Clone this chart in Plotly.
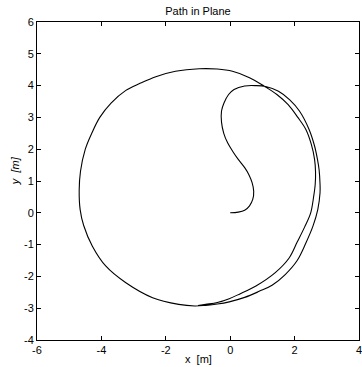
import plotly.graph_objects as go

# path: start, S-curve and loop, first (outer) lap on the right,
# bottom, left side, top, second (inner) lap on the right, ending at the bottom
path_x = [0.0, 0.25, 0.45, 0.6, 0.7, 0.73, 0.68, 0.58, 0.45, 0.25, 0.08, -0.08, -0.2,
          -0.27, -0.27, -0.19, -0.05, 0.12, 0.45, 0.8, 1.1,
          1.5, 1.85, 2.15, 2.45, 2.62, 2.71, 2.76, 2.79, 2.79, 2.72, 2.57, 2.35, 2.08,
          1.7, 1.3, 0.9, 0.45, -0.03, -0.4, -0.76, -1.1, -1.6,
          -2.41, -3.24, -3.86, -4.28, -4.55, -4.66, -4.69, -4.65, -4.5, -4.3, -4.05,
          -3.7, -3.24, -2.8, -2.31, -1.7, -0.96, -0.4, 0.07, 0.6, 1.06,
          1.45, 1.8, 2.1, 2.35, 2.52, 2.62, 2.65, 2.64, 2.59, 2.5, 2.31, 2.08, 1.83,
          1.4, 0.8, 0.3, -0.03, -0.4, -0.76, -1.0]
path_y = [0.0, 0.02, 0.08, 0.22, 0.42, 0.68, 0.95, 1.2, 1.42, 1.68, 1.93, 2.2, 2.5,
          2.85, 3.2, 3.46, 3.72, 3.88, 3.99, 4.0, 3.97,
          3.82, 3.55, 3.2, 2.62, 2.1, 1.68, 1.36, 0.9, 0.63, 0.1, -0.42, -0.95, -1.5,
          -1.95, -2.28, -2.47, -2.66, -2.8, -2.87, -2.91, -2.93, -2.88,
          -2.67, -2.2, -1.68, -1.05, -0.4, 0.1, 0.7, 1.3, 2.0, 2.5, 3.0,
          3.45, 3.85, 4.07, 4.28, 4.45, 4.53, 4.52, 4.45, 4.25, 3.98,
          3.72, 3.4, 3.0, 2.62, 2.15, 1.68, 1.3, 0.9, 0.5, 0.0, -0.45, -0.92, -1.42,
          -1.88, -2.3, -2.55, -2.7, -2.82, -2.88, -2.92]

x_ticks = [-6, -4, -2, 0, 2, 4]
y_ticks = [-4, -3, -2, -1, 0, 1, 2, 3, 4, 5, 6]

fig = go.Figure()
fig.add_trace(go.Scatter(
    x=path_x, y=path_y, mode="lines",
    line=dict(color="black", width=1.1, shape="spline", smoothing=1.0),
    showlegend=False,
))

axis_style = dict(
    showgrid=False, zeroline=False, showline=True, linecolor="black", linewidth=1,
    mirror="ticks", ticks="inside", ticklen=4, tickcolor="black",
    tickfont=dict(size=11, color="black"), automargin=False,
    ticklabeloverflow="allow",
)

fig.update_layout(
    width=362, height=367,
    margin=dict(l=37, r=3, t=22, b=27),
    plot_bgcolor="white", paper_bgcolor="white",
    font=dict(family="Liberation Sans, Arial, sans-serif", size=11, color="black"),
    title=dict(text="Path in Plane", xref="paper", x=0.5, xanchor="center",
               yref="container", y=0.97, yanchor="middle", font=dict(size=11)),
    xaxis=dict(range=[-6, 4], tickvals=x_ticks, ticktext=[str(v) for v in x_ticks],
               **axis_style),
    yaxis=dict(range=[-4, 6], tickvals=y_ticks, ticktext=[str(v) for v in y_ticks],
               **axis_style),
    annotations=[
        dict(text="x  [m]", xref="paper", yref="paper", x=0.5, y=0,
             xanchor="center", yanchor="top", yshift=-11, showarrow=False,
             font=dict(size=11)),
        dict(text="<i>y  [m]</i>", xref="paper", yref="paper", x=0, y=0.531,
             xanchor="center", yanchor="middle", xshift=-22, textangle=-90,
             showarrow=False, font=dict(size=11)),
    ],
)

# drop the page's default body margin so the figure fills the window
fig.write_html("out.html", config={"displayModeBar": False},
               post_script="document.body.style.margin='0';")
